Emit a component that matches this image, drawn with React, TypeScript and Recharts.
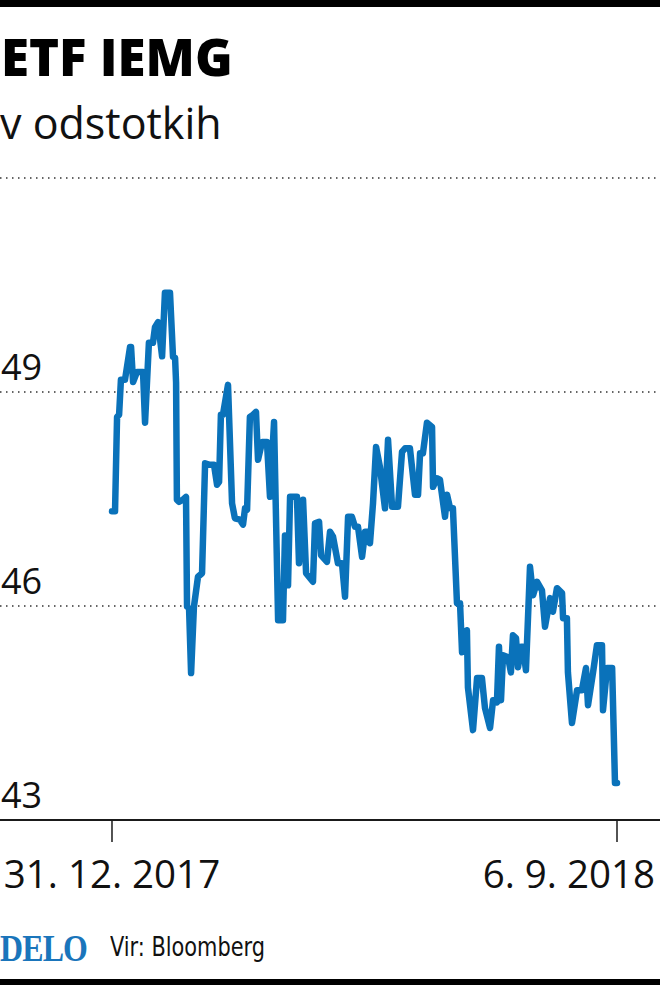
import { LineChart, Line, XAxis, YAxis, ReferenceLine } from 'recharts';

// days since 31. 12. 2017
const DAYS = [
  0, 1.5, 2.5, 3.5, 4.4, 6.4, 8.9, 9.4, 10.4, 12.3, 15.3, 16.3, 18.2, 20.2, 21.2, 22.7, 24.7, 26.1, 28.6,
  30.1, 31.1, 31.6, 32.0, 33.0, 35.0, 36.5, 37.0, 38.0, 39.0, 40.4, 42.4, 44.4, 45.9, 48.3, 50.3, 51.8,
  52.8, 53.7, 54.7, 57.2, 59.2, 60.6, 63.1, 64.6, 65.6, 66.6, 68.0, 69.5, 71.0, 72.0, 74.0, 76.4, 77.9,
  79.9, 81.9, 84.3, 85.3, 86.8, 87.8, 91.2, 92.2, 94.2, 95.7, 99.1, 100.1, 102.1, 103.1, 106.0, 107.5,
  109.0, 111.4, 113.4, 114.9, 116.4, 118.3, 119.8, 121.3, 123.3, 124.8, 126.2, 127.2, 128.7, 130.2,
  132.1, 134.6, 136.1, 138.1, 141.0, 143.0, 144.5, 146.9, 149.4, 150.9, 151.9, 153.3, 155.3, 157.8,
  158.3, 160.2, 161.7, 164.2, 165.2, 166.7, 168.1, 170.1, 171.6, 172.6, 175.0, 175.5, 178.0, 180.0,
  182.4, 183.9, 186.4, 187.9, 189.8, 190.8, 191.8, 192.8, 195.3, 196.7, 197.7, 199.2, 200.2, 201.7,
  202.6, 204.1, 206.1, 207.6, 209.6, 212.0, 213.5, 216.0, 217.4, 219.4, 221.9, 222.4, 224.3, 224.8,
  226.8, 229.3, 231.7, 233.7, 234.7, 237.2, 239.1, 241.6, 242.1, 244.1, 246.6, 248.0, 249.0,
];

const PRICES = [
  47.33, 47.33, 48.65, 48.68, 49.17, 49.17, 49.63, 49.63, 49.14, 49.28, 49.28, 48.57, 49.69, 49.69, 49.91,
  49.98, 49.5, 50.39, 50.39, 49.49, 49.48, 49.13, 47.49, 47.46, 47.49, 47.53, 45.99, 45.97, 45.06, 45.99,
  46.41, 46.46, 48.0, 47.98, 47.98, 47.7, 47.74, 48.68, 48.68, 49.1, 47.44, 47.23, 47.21, 47.14, 47.37,
  47.35, 48.65, 48.68, 48.72, 48.05, 48.3, 48.3, 47.53, 48.58, 45.8, 45.8, 46.99, 46.29, 47.53, 47.53,
  46.6, 47.49, 46.46, 46.34, 47.16, 47.18, 46.71, 46.62, 47.04, 46.97, 46.6, 46.6, 46.13, 47.25, 47.25,
  47.11, 47.11, 46.69, 47.04, 47.04, 46.88, 47.44, 48.23, 47.95, 47.37, 48.33, 47.39, 47.39, 48.16, 48.21,
  48.21, 47.56, 47.56, 48.14, 48.14, 48.57, 48.51, 47.67, 47.79, 47.77, 47.25, 47.56, 47.37, 47.37, 46.04,
  46.04, 45.35, 45.66, 44.86, 44.26, 44.99, 44.99, 44.57, 44.29, 44.68, 44.65, 45.43, 44.68, 45.31, 45.28,
  45.07, 45.59, 45.55, 45.14, 45.43, 45.43, 45.1, 46.55, 46.15, 46.34, 46.22, 45.71, 46.11, 45.92, 46.25,
  46.18, 45.83, 45.83, 45.07, 44.36, 44.82, 44.82, 45.13, 44.61, 45.07, 45.45, 45.45, 44.54, 45.13, 45.13,
  43.52, 43.52,
];

const X_TICKS = [0, 249];
const X_LABELS = ['31. 12. 2017', '6. 9. 2018'];
const Y_TICKS = [43, 46, 49];
const GRID_LINES = [46, 49, 52];

const data = DAYS.map((d, i) => ({ day: d, v: PRICES[i] }));

const SANS = '"Open Sans", "Noto Sans", sans-serif';

if (typeof document !== 'undefined') document.body.style.margin = '0';

const XTick = (props: any) => {
  const i = X_TICKS.indexOf(props.payload.value);
  const last = i === X_TICKS.length - 1;
  return (
    <text
      x={last ? 655 : props.x}
      y={888}
      textAnchor={last ? 'end' : 'middle'}
      fontFamily={SANS}
      fontSize={38.5}
      fill="#111"
    >
      {X_LABELS[i]}
    </text>
  );
};

const yLabel = (value: number) => (props: any) => (
  <text x={1} y={props.viewBox.y - 12} textAnchor="start" fontFamily={SANS} fontSize={36} fill="#111">
    {value}
  </text>
);

export default function App() {
  return (
    <div style={{ position: 'relative', width: 660, height: 985, background: '#fff', overflow: 'hidden' }}>
      <div style={{ position: 'absolute', left: 0, top: 0, width: 660, height: 7, background: '#000' }} />
      <div
        style={{
          position: 'absolute', left: 1, top: 21, fontFamily: SANS, fontWeight: 800,
          fontSize: 51, lineHeight: '70px', color: '#000', whiteSpace: 'nowrap',
        }}
      >
        ETF IEMG
      </div>
      <div
        style={{
          position: 'absolute', left: 0, top: 95, fontFamily: SANS, fontWeight: 400,
          fontSize: 43, lineHeight: '56px', color: '#111', whiteSpace: 'nowrap',
        }}
      >
        v odstotkih
      </div>

      <div style={{ position: 'absolute', left: 0, top: 0 }}>
        <LineChart width={660} height={985} data={data} margin={{ top: 178, right: 0, bottom: 0, left: 0 }}>
          <XAxis
            type="number"
            dataKey="day"
            domain={[-55.22, 270.2]}
            allowDataOverflow
            ticks={X_TICKS}
            height={165}
            axisLine={{ stroke: '#1a1a1a', strokeWidth: 2 }}
            tickLine={{ stroke: '#1a1a1a', strokeWidth: 1.5 }}
            tickSize={22}
            tick={<XTick />}
          />
          <YAxis type="number" domain={[43, 52]} allowDataOverflow ticks={Y_TICKS} hide />
          {GRID_LINES.map((g) => (
            <ReferenceLine key={g} y={g} stroke="#333" strokeWidth={1.5} strokeDasharray="1.5 4.5" />
          ))}
          {Y_TICKS.map((t) => (
            <ReferenceLine key={'l' + t} y={t} stroke="none" label={yLabel(t)} />
          ))}
          <Line
            type="linear"
            dataKey="v"
            stroke="#0a72ba"
            strokeWidth={6.5}
            strokeLinecap="round"
            strokeLinejoin="round"
            dot={false}
            isAnimationActive={false}
          />
        </LineChart>
      </div>

      <div
        style={{
          position: 'absolute', left: 0, top: 929, fontFamily: '"Liberation Serif", "DejaVu Serif", serif',
          fontWeight: 700, fontSize: 38, lineHeight: '38px', color: '#1a75bb', letterSpacing: -1,
          transform: 'scaleX(0.84)', transformOrigin: 'left top', whiteSpace: 'nowrap',
        }}
      >
        DELO
      </div>
      <div
        style={{
          position: 'absolute', left: 110, top: 929, fontFamily: '"DejaVu Sans Condensed", "DejaVu Sans", sans-serif',
          fontStretch: 'condensed', fontSize: 27, lineHeight: '36px', color: '#111',
          transform: 'scaleX(0.86)', transformOrigin: 'left top', whiteSpace: 'nowrap',
        }}
      >
        Vir: Bloomberg
      </div>
      <div style={{ position: 'absolute', left: 0, top: 979, width: 660, height: 6, background: '#000' }} />
    </div>
  );
}
